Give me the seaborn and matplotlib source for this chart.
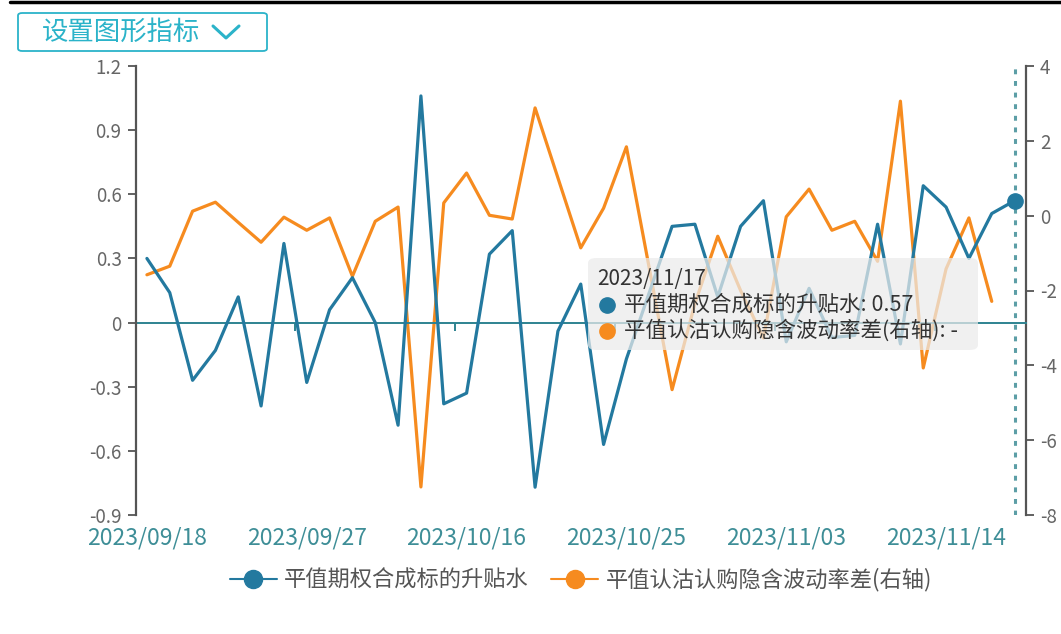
import numpy as np
import pandas as pd
import matplotlib
matplotlib.use("Agg")
import matplotlib.pyplot as plt
from matplotlib.lines import Line2D
from matplotlib.patches import FancyBboxPatch
import seaborn as sns

# ---------------- data ----------------
dates = ["2023/09/18", "2023/09/19", "2023/09/20", "2023/09/21", "2023/09/22",
         "2023/09/25", "2023/09/26", "2023/09/27", "2023/09/28",
         "2023/10/09", "2023/10/10", "2023/10/11", "2023/10/12", "2023/10/13",
         "2023/10/16", "2023/10/17", "2023/10/18", "2023/10/19", "2023/10/20",
         "2023/10/23", "2023/10/24", "2023/10/25", "2023/10/26", "2023/10/27",
         "2023/10/30", "2023/10/31", "2023/11/01", "2023/11/02", "2023/11/03",
         "2023/11/06", "2023/11/07", "2023/11/08", "2023/11/09", "2023/11/10",
         "2023/11/13", "2023/11/14", "2023/11/15", "2023/11/16", "2023/11/17"]

basis = [0.30, 0.14, -0.27, -0.13, 0.12, -0.39, 0.37, -0.28, 0.06, 0.21,
         0.00, -0.48, 1.06, -0.38, -0.33, 0.32, 0.43, -0.77, -0.04, 0.18,
         -0.57, -0.17, 0.14, 0.45, 0.46, 0.12, 0.45, 0.57, -0.09, 0.16,
         -0.07, -0.06, 0.46, -0.10, 0.64, 0.54, 0.30, 0.51, 0.57]

vol_diff = [-1.58, -1.35, 0.12, 0.36, -0.18, -0.71, -0.04, -0.39, -0.06, -1.62,
            -0.15, 0.23, -7.25, 0.34, 1.14, 0.01, -0.09, 2.88, 1.01, -0.86,
            0.20, 1.84, -1.40, -4.65, -2.35, -0.55, -2.00, -3.27, -0.03, 0.71,
            -0.39, -0.15, -1.22, 3.06, -4.07, -1.42, -0.06, -2.29, np.nan]

name_basis = "平值期权合成标的升贴水"
name_vol = "平值认沽认购隐含波动率差(右轴)"
left_ticks = [-0.9, -0.6, -0.3, 0, 0.3, 0.6, 0.9, 1.2]
right_ticks = [-8, -6, -4, -2, 0, 2, 4]
label_every = 7

# ---------------- style ----------------
sns.set_style("white")
plt.rcParams["font.family"] = ["Noto Sans CJK SC", "DejaVu Sans"]
plt.rcParams["axes.unicode_minus"] = False

BLUE = "#23799f"
ORANGE = "#f68b1f"
TEAL = "#2e8390"
XLAB = "#3e8e97"
GRAY = "#666666"
SPINE = "#555555"
BTN = "#2bb3c9"

W, H = 1061, 634
fig = plt.figure(figsize=(W / 100, H / 100), dpi=100)
fig.patch.set_facecolor("white")

def fx(px):
    return px / W

def fy(py):
    return 1 - py / H

ax = fig.add_axes([fx(135.5), fy(515), fx(1026) - fx(135.5), fy(66) - fy(515)])
ax2 = ax.twinx()

df = pd.DataFrame({"idx": np.arange(len(dates)), "date": dates,
                   "basis": basis, "vol": vol_diff})

sns.lineplot(data=df, x="idx", y="basis", ax=ax, color=BLUE, lw=2.3,
             legend=False, zorder=3)
sns.lineplot(data=df.dropna(subset=["vol"]), x="idx", y="vol", ax=ax2,
             color=ORANGE, lw=2.3, legend=False, zorder=3)

# highlighted last point of the blue series
last = len(dates) - 1
ax.plot([df["idx"].iloc[last]], [df["basis"].iloc[last]], "o", color=BLUE,
        ms=11, zorder=6, clip_on=False)
# dashed cursor line
ax.axvline(df["idx"].iloc[last], color="#5c9ea6", lw=2.2, ls=(0, (1.6, 2.2)),
           zorder=1)

# ---------------- axes ----------------
n = len(dates)
ax.set_xlim(-0.5, n - 0.5)
ax.set_ylim(left_ticks[0], left_ticks[-1])
ax2.set_ylim(right_ticks[0], right_ticks[-1])
ax.set_xlabel("")
ax.set_ylabel("")
ax2.set_ylabel("")

ax.set_yticks(left_ticks)
ax.set_yticklabels(["0" if v == 0 else f"{v:g}" for v in left_ticks])
ax2.set_yticks(right_ticks)
ax2.set_yticklabels([str(v) for v in right_ticks])

ax.tick_params(axis="y", direction="out", length=6, width=1.3, color=SPINE,
               labelcolor=GRAY, labelsize=13.5, pad=4, left=True)
ax2.tick_params(axis="y", direction="out", length=6, width=1.3, color=SPINE,
                labelcolor=GRAY, labelsize=13.5, pad=4, right=True)

for s in ["top", "right"]:
    ax.spines[s].set_visible(False)
for s in ["top", "left", "bottom"]:
    ax2.spines[s].set_visible(False)
ax.spines["left"].set_color(SPINE)
ax.spines["left"].set_linewidth(1.6)
ax2.spines["right"].set_color(SPINE)
ax2.spines["right"].set_linewidth(1.6)

# category axis line at zero with boundary ticks
ax.spines["bottom"].set_position(("data", 0))
ax.spines["bottom"].set_color(TEAL)
ax.spines["bottom"].set_linewidth(1.4)
ax.spines["bottom"].set_zorder(2)
ax.set_xticks(np.arange(-0.5, n, label_every))
ax.tick_params(axis="x", direction="out", length=6, width=1.4, color=TEAL,
               labelbottom=False, bottom=True)

# date labels at the bottom
sec = ax.secondary_xaxis("bottom")
pos = list(range(0, n, label_every))
sec.set_xticks(pos)
sec.set_xticklabels([dates[i] for i in pos])
sec.tick_params(axis="x", length=0, pad=8, labelsize=16.5, labelcolor=XLAB)
sec.spines["bottom"].set_visible(False)

ax.set_zorder(ax2.get_zorder() + 1)
ax.patch.set_visible(False)

# ---------------- legend ----------------
handles = [Line2D([], [], color=BLUE, lw=1.5, marker="o", ms=13),
           Line2D([], [], color=ORANGE, lw=1.5, marker="o", ms=13)]
fig.legend(handles, [name_basis, name_vol], loc="center",
           bbox_to_anchor=(fx(581), fy(580)), ncol=2, frameon=False,
           fontsize=16, handlelength=2.1, handletextpad=0.35,
           columnspacing=1.0, labelcolor="#555555")

# ---------------- tooltip ----------------
tip = FancyBboxPatch((fx(588), fy(350)), fx(978) - fx(588), fy(258) - fy(350),
                     boxstyle="round,pad=0,rounding_size=0.008",
                     transform=fig.transFigure, facecolor="#ebebeb",
                     edgecolor="none", alpha=0.72, zorder=10)
fig.patches.append(tip)
fig.text(fx(597), fy(279), dates[-1], fontsize=15, color="#333333",
         va="center", ha="left", zorder=11)
for yy, col in [(305, BLUE), (331, ORANGE)]:
    fig.add_artist(Line2D([fx(607)], [fy(yy)], marker="o", ms=11, color=col,
                          lw=0, transform=fig.transFigure, zorder=11))
v_last = df["vol"].iloc[last]
fig.text(fx(624), fy(305), f"{name_basis}: {basis[-1]:.2f}", fontsize=15.5,
         color="#333333", va="center", ha="left", zorder=11)
fig.text(fx(624), fy(331),
         f"{name_vol}: {'-' if pd.isna(v_last) else v_last}", fontsize=15.5,
         color="#333333", va="center", ha="left", zorder=11)

# ---------------- top decorations ----------------
fig.add_artist(Line2D([fx(10), 1.0], [fy(1.5), fy(1.5)], color="black",
                      lw=2.5, transform=fig.transFigure))
btn = FancyBboxPatch((fx(18), fy(51)), fx(267) - fx(18), fy(13) - fy(51),
                     boxstyle="round,pad=0,rounding_size=0.004",
                     transform=fig.transFigure, facecolor="white",
                     edgecolor=BTN, lw=1.3)
fig.patches.append(btn)
fig.text(fx(42), fy(32), "设置图形指标", fontsize=19, color=BTN,
         va="center", ha="left")
fig.add_artist(Line2D([fx(213), fx(226), fx(239)], [fy(26), fy(38), fy(26)],
                      color=BTN, lw=2.2, transform=fig.transFigure,
                      solid_capstyle="round", solid_joinstyle="round"))

fig.savefig("out.png", dpi=100, facecolor="white")
